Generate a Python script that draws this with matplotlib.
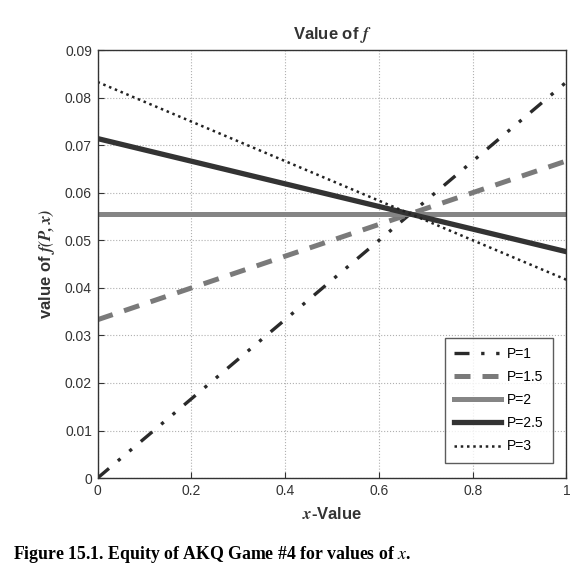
import matplotlib
matplotlib.use("Agg")
import matplotlib.pyplot as plt

plt.rcParams['font.family'] = ['Liberation Sans', 'DejaVu Sans']
plt.rcParams['mathtext.fontset'] = 'stix'

x_vals = [0.0, 1.0]
p1 = [0.0, 0.0833]
p15 = [0.0333, 0.0667]
p2 = [0.0556, 0.0556]
p25 = [0.0714, 0.0476]
p3 = [0.0833, 0.0417]
labels = ['P=1', 'P=1.5', 'P=2', 'P=2.5', 'P=3']
xticks = [0, 0.2, 0.4, 0.6, 0.8, 1]
xticklabels = ['0', '0.2', '0.4', '0.6', '0.8', '1']
yticks = [0, 0.01, 0.02, 0.03, 0.04, 0.05, 0.06, 0.07, 0.08, 0.09]
yticklabels = ['0', '0.01', '0.02', '0.03', '0.04', '0.05', '0.06', '0.07', '0.08', '0.09']

fig = plt.figure(figsize=(5.84, 5.76), dpi=100)
ax = fig.add_axes([0.167, 0.170, 0.803, 0.743])

ax.plot(x_vals, p1, color='#2a2a2a', lw=2.4, dashes=(4.5, 3.5, 1, 3.5, 1, 3.5), label=labels[0])
ax.plot(x_vals, p15, color='#7a7a7a', lw=3.6, dashes=(3.2, 2.4), label=labels[1])
ax.plot(x_vals, p2, color='#858585', lw=3.6, label=labels[2])
ax.plot(x_vals, p25, color='#333333', lw=3.8, label=labels[3])
ax.plot(x_vals, p3, color='#222222', lw=1.8, dashes=(1, 1.5), label=labels[4])

ax.set_xlim(0, 1)
ax.set_ylim(0, 0.09)
ax.set_xticks(xticks)
ax.set_xticklabels(xticklabels)
ax.set_yticks(yticks)
ax.set_yticklabels(yticklabels)
ax.tick_params(direction='in', length=4, labelsize=10, colors='#333333', pad=4)
ax.grid(True, color='#b0b0b0', linestyle=':', linewidth=0.8)
for s in ax.spines.values():
    s.set_color('#333333')
    s.set_linewidth(1.0)

ax.set_title('Value of $\\mathbfit{f}$', fontsize=12, fontweight='bold', color='#333333', pad=8)
ax.set_xlabel('$\\mathbfit{x}$-Value', fontsize=12, fontweight='bold', color='#333333', labelpad=6)
ax.set_ylabel('value of $\\mathbfit{f(P,x)}$', fontsize=12, fontweight='bold', color='#333333', labelpad=6)

leg = ax.legend(loc='lower right', fontsize=10, frameon=True, fancybox=False,
                edgecolor='#333333', handlelength=3.4, labelspacing=0.65,
                borderpad=0.7, bbox_to_anchor=(0.972, 0.035), handletextpad=0.4,
                borderaxespad=0)
leg.get_frame().set_linewidth(1.0)

fig.text(0.022, 0.030, 'Figure 15.1. Equity of AKQ Game #4 for values of $\\mathit{x}$.', fontsize=12.8,
         fontweight='bold', family='Liberation Serif', color='black')

fig.savefig('out.png', dpi=100)
